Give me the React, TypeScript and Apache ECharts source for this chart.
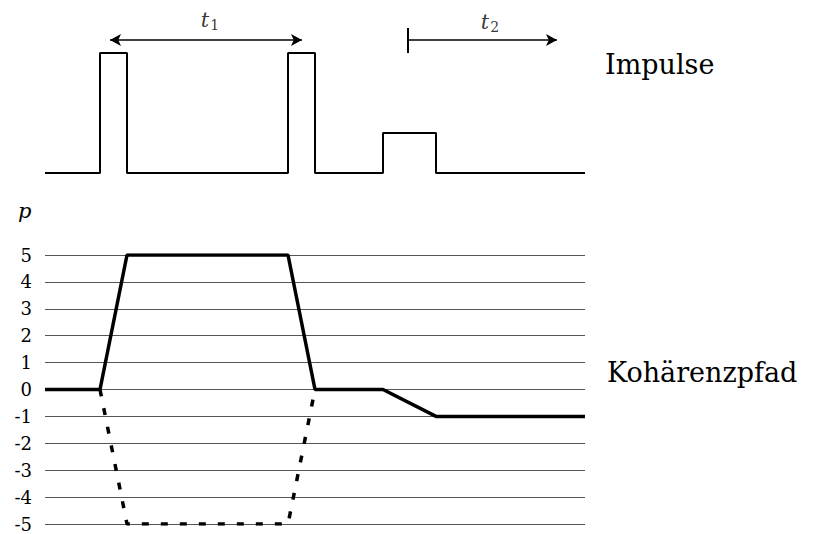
import React, { useEffect, useRef } from "react";
import * as echarts from "echarts";

// time positions (arbitrary units, 0..540)
const pulseStart = [55, 243, 338];
const pulseEnd = [82, 270, 391];
const pulseAmp = [1, 1, 0.333];
const timeEnd = 540;

// coherence pathway
const pathTimes = [0, 55, 82, 243, 270, 338, 391, 540];
const pathP = [0, 0, 5, 5, 0, 0, -1, -1];
const mirrorTimes = [55, 82, 243, 270];
const mirrorP = [0, -5, -5, 0];

const pTicks = [-5, -4, -3, -2, -1, 0, 1, 2, 3, 4, 5];

// delay arrows
const t1Range = [65, 257];
const t2Range = [363, 512];
const arrowLevel = 1.108;

const FONT = "DejaVu Serif";

export default function App() {
  const ref = useRef<HTMLDivElement>(null);
  useEffect(() => {
    if (!ref.current) return;
    const chart = echarts.init(ref.current, undefined, { renderer: "svg" });

    const pulseData: number[][] = [[0, 0]];
    pulseStart.forEach((s, i) => {
      pulseData.push([s, 0], [s, pulseAmp[i]], [pulseEnd[i], pulseAmp[i]], [pulseEnd[i], 0]);
    });
    pulseData.push([timeEnd, 0]);

    const option: any = {
      animation: false,
      backgroundColor: "#ffffff",
      textStyle: { fontFamily: FONT },
      grid: [
        { left: 45, width: 540, top: 5, height: 168 },
        { left: 45, width: 540, top: 255, height: 269 },
      ],
      xAxis: [
        { type: "value", gridIndex: 0, min: 0, max: timeEnd, show: false },
        { type: "value", gridIndex: 1, min: 0, max: timeEnd, show: false },
      ],
      yAxis: [
        { type: "value", gridIndex: 0, min: 0, max: 1.4, show: false },
        {
          type: "value",
          gridIndex: 1,
          min: pTicks[0],
          max: pTicks[pTicks.length - 1],
          interval: 1,
          axisLine: { show: false },
          axisTick: { show: false },
          axisLabel: {
            margin: 13,
            color: "#000",
            fontFamily: FONT,
            fontSize: 18,
          },
          splitLine: { show: true, lineStyle: { color: "#555", width: 1 } },
        },
      ],
      graphic: [
        {
          type: "text",
          left: 605,
          top: 51,
          style: { text: "Impulse", fontFamily: FONT, fontSize: 27, fill: "#000" },
        },
        {
          type: "text",
          left: 607,
          top: 359,
          style: { text: "Kohärenzpfad", fontFamily: FONT, fontSize: 27, fill: "#000" },
        },
        {
          type: "text",
          left: 18,
          top: 200,
          style: { text: "p", fontFamily: FONT, fontStyle: "italic", fontSize: 21, fill: "#000" },
        },
      ],
      series: [
        {
          type: "line",
          xAxisIndex: 0,
          yAxisIndex: 0,
          data: pulseData,
          symbol: "none",
          silent: true,
          clip: false,
          lineStyle: { color: "#000", width: 2 },
          markLine: {
            silent: true,
            label: { show: false },
            lineStyle: { color: "#000", width: 1.5, type: "solid" },
            symbolSize: [9, 11],
            data: [
              [
                { coord: [t1Range[0], arrowLevel], symbol: "arrow" },
                { coord: [t1Range[1], arrowLevel], symbol: "arrow" },
              ],
              [
                { coord: [t2Range[0], arrowLevel], symbol: "none" },
                { coord: [t2Range[1], arrowLevel], symbol: "arrow" },
              ],
              [
                { coord: [t2Range[0], 1.0], symbol: "none", lineStyle: { width: 2 } },
                { coord: [t2Range[0], 1.208], symbol: "none" },
              ],
            ],
          },
        },
        {
          type: "scatter",
          xAxisIndex: 0,
          yAxisIndex: 0,
          symbolSize: 0,
          silent: true,
          data: [
            { value: [165, 1.275], name: "1" },
            { value: [445, 1.26], name: "2" },
          ],
          label: {
            show: true,
            position: "inside",
            formatter: (p: any) => `{t|t}{s|${p.name}}`,
            rich: {
              t: { fontFamily: FONT, fontStyle: "italic", fontSize: 21, color: "#000" },
              s: { fontFamily: FONT, fontSize: 14, color: "#000", padding: [10, 0, 0, 1] },
            },
          },
        },
        {
          type: "line",
          xAxisIndex: 1,
          yAxisIndex: 1,
          data: mirrorTimes.map((t, i) => [t, mirrorP[i]]),
          symbol: "none",
          silent: true,
          lineStyle: { color: "#000", width: 3.5, type: [7, 12] },
        },
        {
          type: "line",
          xAxisIndex: 1,
          yAxisIndex: 1,
          data: pathTimes.map((t, i) => [t, pathP[i]]),
          symbol: "none",
          silent: true,
          lineStyle: { color: "#000", width: 3.5 },
        },
      ],
    };
    chart.setOption(option);
    return () => chart.dispose();
  }, []);
  return (
    <div
      ref={ref}
      style={{ position: "fixed", left: 0, top: 0, width: 816, height: 534, background: "#fff" }}
    />
  );
}
